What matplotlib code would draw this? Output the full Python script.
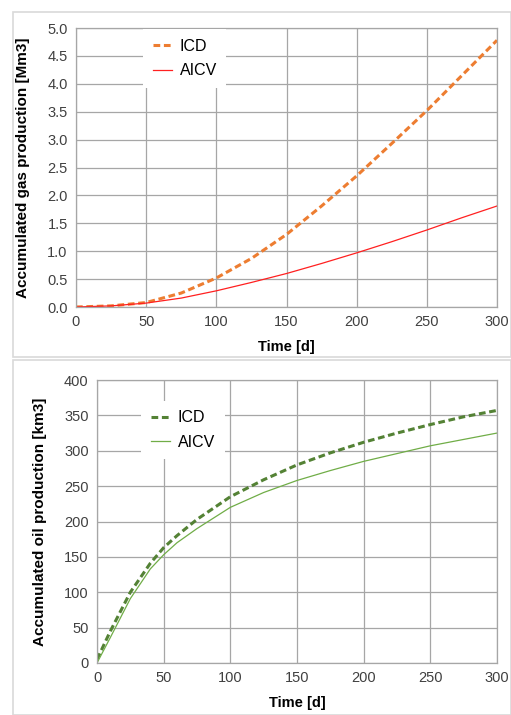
import matplotlib
matplotlib.use("Agg")
import matplotlib.pyplot as plt
from matplotlib.patches import Rectangle

plt.rcParams['font.family'] = ['Liberation Sans', 'DejaVu Sans']

# gas production [Mm3]
gas_t = [0, 25, 50, 75, 100, 125, 150, 175, 200, 225, 250, 275, 300]
gas_icd = [0.0, 0.02, 0.08, 0.25, 0.52, 0.87, 1.30, 1.81, 2.35, 2.93, 3.52, 4.15, 4.78]
gas_aicv = [0.0, 0.02, 0.07, 0.16, 0.29, 0.44, 0.60, 0.78, 0.97, 1.17, 1.38, 1.60, 1.81]

# oil production [km3]
oil_t = [0, 10, 25, 40, 50, 60, 75, 100, 125, 150, 175, 200, 225, 250, 275, 300]
oil_icd = [5, 45, 100, 141, 163, 180, 203, 235, 259, 280, 297, 312, 325, 337, 348, 357]
oil_aicv = [0, 36, 91, 133, 153, 170, 190, 220, 241, 258, 272, 285, 296, 307, 316, 325]

W, H = 511, 715
fig = plt.figure(figsize=(W / 100, H / 100), dpi=100)

# panel frames
fig.patches.append(Rectangle((13 / W, 1 - 357 / H), (W - 13) / W, 345 / H,
                             transform=fig.transFigure, fill=False,
                             edgecolor='#d9d9d9', lw=1.2))
fig.patches.append(Rectangle((13 / W, 0), (W - 13) / W, 1 - 360 / H,
                             transform=fig.transFigure, fill=False,
                             edgecolor='#d9d9d9', lw=1.2))


def make_ax(l, t, r, b):
    return fig.add_axes([l / W, 1 - b / H, (r - l) / W, (b - t) / H])


def style(ax):
    ax.grid(True, color='#a6a6a6', lw=0.9)
    ax.set_axisbelow(True)
    for s in ax.spines.values():
        s.set_color('#a6a6a6')
        s.set_linewidth(0.9)
    ax.tick_params(length=0, labelsize=10.5, colors='#404040', pad=6)
    ax.set_xlim(0, 300)
    ax.set_xticks(range(0, 301, 50))


def add_legend(ax, anchor):
    ax.legend(loc='upper left', bbox_to_anchor=anchor, fontsize=11.5,
              frameon=True, fancybox=False, edgecolor='none', framealpha=1,
              handlelength=1.2, handletextpad=0.5, borderpad=0.6,
              labelspacing=0.6)


ax1 = make_ax(76, 28, 497, 307)
style(ax1)
ax1.plot(gas_t, gas_icd, color='#ed7d31', lw=2.2, ls=(0, (2.2, 1.2)), label='ICD')
ax1.plot(gas_t, gas_aicv, color='#ff2020', lw=0.9, label='AICV')
ax1.set_ylim(0, 5)
ax1.set_yticks([i * 0.5 for i in range(11)])
ax1.set_yticklabels(['%.1f' % (i * 0.5) for i in range(11)])
ax1.set_xlabel('Time [d]', fontsize=10.5, fontweight='bold', labelpad=8)
ax1.set_ylabel('Accumulated gas production [Mm3]', fontsize=11, fontweight='bold', labelpad=12)
add_legend(ax1, (0.14, 1.025))

ax2 = make_ax(97, 380, 497, 663)
style(ax2)
ax2.plot(oil_t, oil_icd, color='#548235', lw=2.2, ls=(0, (2.2, 1.2)), label='ICD')
ax2.plot(oil_t, oil_aicv, color='#70ad47', lw=0.9, label='AICV')
ax2.set_ylim(0, 400)
ax2.set_yticks(range(0, 401, 50))
ax2.set_xlabel('Time [d]', fontsize=10.5, fontweight='bold', labelpad=8)
ax2.set_ylabel('Accumulated oil production [km3]', fontsize=11, fontweight='bold', labelpad=12)
add_legend(ax2, (0.09, 0.955))

fig.savefig('out.png', dpi=100, facecolor='white')
